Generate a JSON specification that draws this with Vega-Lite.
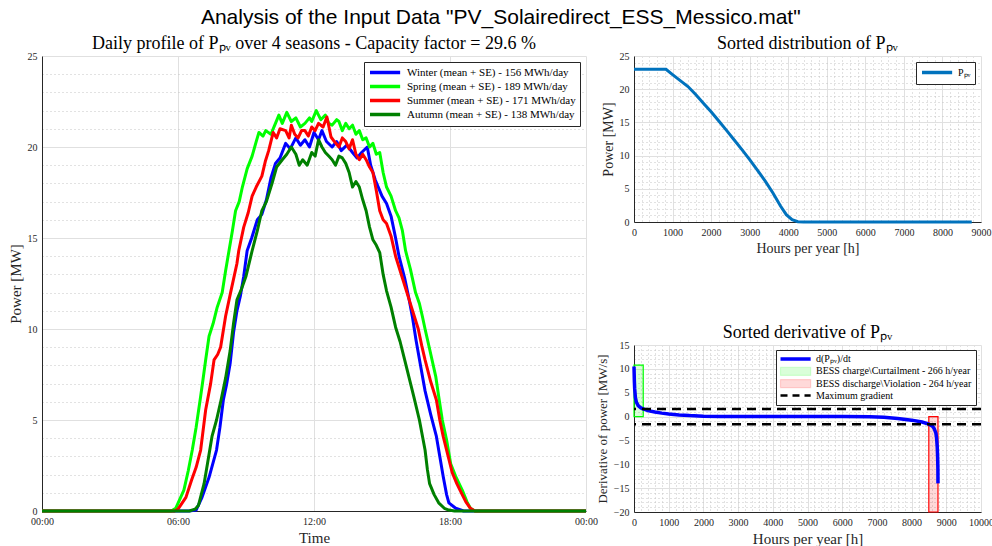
{
  "$schema": "https://vega.github.io/schema/vega-lite/v6.json",
  "background": "white",
  "padding": {"left": 8, "top": 7, "right": 0, "bottom": 0},
  "title": {"text": "Analysis of the Input Data \"PV_Solairedirect_ESS_Messico.mat\"", "font": "Liberation Sans", "fontSize": 21, "fontWeight": "normal", "anchor": "middle", "color": "#000000", "offset": 7},
  "spacing": -2,
  "resolve": {"scale": {"color": "independent", "stroke": "independent"}, "legend": {"color": "independent"}},
  "hconcat": [
    {
      "width": 544,
      "height": 455,
      "title": {"text": "Daily profile of Pₚᵥ over 4 seasons - Capacity factor = 29.6 %"},
      "data": {"values": [
        {"s":"Winter","h":0,"p":0},{"s":"Winter","h":6.5,"p":0},{"s":"Winter","h":6.8,"p":0.05},{"s":"Winter","h":7.06,"p":0.75},{"s":"Winter","h":7.37,"p":1.85},{"s":"Winter","h":7.7,"p":3.35},{"s":"Winter","h":7.85,"p":4.6},{"s":"Winter","h":8.0,"p":6.1},{"s":"Winter","h":8.15,"p":7.0},{"s":"Winter","h":8.3,"p":8.1},{"s":"Winter","h":8.45,"p":9.8},{"s":"Winter","h":8.6,"p":11.0},{"s":"Winter","h":8.75,"p":11.8},{"s":"Winter","h":8.9,"p":12.9},{"s":"Winter","h":9.05,"p":14.3},{"s":"Winter","h":9.25,"p":15.0},{"s":"Winter","h":9.5,"p":16.0},{"s":"Winter","h":9.7,"p":16.3},{"s":"Winter","h":9.9,"p":17.1},{"s":"Winter","h":10.1,"p":18.3},{"s":"Winter","h":10.3,"p":19.1},{"s":"Winter","h":10.5,"p":19.4},{"s":"Winter","h":10.75,"p":20.2},{"s":"Winter","h":10.95,"p":19.9},{"s":"Winter","h":11.2,"p":20.5},{"s":"Winter","h":11.4,"p":20.1},{"s":"Winter","h":11.6,"p":20.4},{"s":"Winter","h":11.8,"p":20.0},{"s":"Winter","h":12.0,"p":20.8},{"s":"Winter","h":12.2,"p":20.4},{"s":"Winter","h":12.35,"p":20.9},{"s":"Winter","h":12.55,"p":20.3},{"s":"Winter","h":12.8,"p":20.0},{"s":"Winter","h":13.0,"p":20.3},{"s":"Winter","h":13.2,"p":19.8},{"s":"Winter","h":13.45,"p":20.1},{"s":"Winter","h":13.7,"p":19.7},{"s":"Winter","h":13.9,"p":19.4},{"s":"Winter","h":14.1,"p":19.7},{"s":"Winter","h":14.35,"p":20.0},{"s":"Winter","h":14.5,"p":19.0},{"s":"Winter","h":14.7,"p":18.2},{"s":"Winter","h":15.0,"p":17.3},{"s":"Winter","h":15.2,"p":16.9},{"s":"Winter","h":15.4,"p":16.2},{"s":"Winter","h":15.6,"p":15.0},{"s":"Winter","h":15.75,"p":14.0},{"s":"Winter","h":16.0,"p":12.8},{"s":"Winter","h":16.2,"p":11.6},{"s":"Winter","h":16.35,"p":10.6},{"s":"Winter","h":16.5,"p":9.4},{"s":"Winter","h":16.7,"p":8.0},{"s":"Winter","h":16.9,"p":6.6},{"s":"Winter","h":17.15,"p":5.3},{"s":"Winter","h":17.4,"p":4.1},{"s":"Winter","h":17.55,"p":3.0},{"s":"Winter","h":17.7,"p":1.9},{"s":"Winter","h":17.85,"p":0.9},{"s":"Winter","h":17.95,"p":0.45},{"s":"Winter","h":18.25,"p":0.15},{"s":"Winter","h":18.6,"p":0},{"s":"Winter","h":24,"p":0},
        {"s":"Spring","h":0,"p":0},{"s":"Spring","h":5.7,"p":0},{"s":"Spring","h":5.9,"p":0.15},{"s":"Spring","h":6.26,"p":1.15},{"s":"Spring","h":6.45,"p":2.2},{"s":"Spring","h":6.63,"p":3.35},{"s":"Spring","h":6.8,"p":4.6},{"s":"Spring","h":7.0,"p":6.3},{"s":"Spring","h":7.1,"p":7.2},{"s":"Spring","h":7.22,"p":8.3},{"s":"Spring","h":7.37,"p":9.6},{"s":"Spring","h":7.55,"p":10.3},{"s":"Spring","h":7.73,"p":11.2},{"s":"Spring","h":7.95,"p":12.0},{"s":"Spring","h":8.1,"p":13.2},{"s":"Spring","h":8.25,"p":14.3},{"s":"Spring","h":8.4,"p":15.4},{"s":"Spring","h":8.54,"p":16.5},{"s":"Spring","h":8.7,"p":17.0},{"s":"Spring","h":8.84,"p":17.8},{"s":"Spring","h":9.05,"p":18.8},{"s":"Spring","h":9.27,"p":19.5},{"s":"Spring","h":9.45,"p":20.3},{"s":"Spring","h":9.57,"p":20.8},{"s":"Spring","h":9.75,"p":20.6},{"s":"Spring","h":9.87,"p":20.9},{"s":"Spring","h":10.1,"p":20.7},{"s":"Spring","h":10.3,"p":21.3},{"s":"Spring","h":10.45,"p":21.75},{"s":"Spring","h":10.6,"p":21.3},{"s":"Spring","h":10.8,"p":21.9},{"s":"Spring","h":11.0,"p":21.4},{"s":"Spring","h":11.2,"p":21.6},{"s":"Spring","h":11.4,"p":21.1},{"s":"Spring","h":11.6,"p":21.3},{"s":"Spring","h":11.8,"p":21.6},{"s":"Spring","h":11.9,"p":21.4},{"s":"Spring","h":12.1,"p":22.0},{"s":"Spring","h":12.3,"p":21.5},{"s":"Spring","h":12.5,"p":21.75},{"s":"Spring","h":12.65,"p":21.3},{"s":"Spring","h":12.8,"p":21.2},{"s":"Spring","h":13.0,"p":21.5},{"s":"Spring","h":13.1,"p":21.4},{"s":"Spring","h":13.25,"p":20.9},{"s":"Spring","h":13.4,"p":21.3},{"s":"Spring","h":13.55,"p":21.0},{"s":"Spring","h":13.7,"p":21.2},{"s":"Spring","h":13.85,"p":20.7},{"s":"Spring","h":14.0,"p":20.9},{"s":"Spring","h":14.15,"p":20.4},{"s":"Spring","h":14.3,"p":20.5},{"s":"Spring","h":14.45,"p":20.0},{"s":"Spring","h":14.6,"p":20.2},{"s":"Spring","h":14.75,"p":19.6},{"s":"Spring","h":14.9,"p":19.7},{"s":"Spring","h":15.05,"p":18.6},{"s":"Spring","h":15.2,"p":17.8},{"s":"Spring","h":15.4,"p":17.3},{"s":"Spring","h":15.6,"p":16.5},{"s":"Spring","h":15.75,"p":16.1},{"s":"Spring","h":15.9,"p":15.4},{"s":"Spring","h":16.04,"p":14.3},{"s":"Spring","h":16.25,"p":13.3},{"s":"Spring","h":16.48,"p":12.0},{"s":"Spring","h":16.65,"p":11.4},{"s":"Spring","h":16.78,"p":10.7},{"s":"Spring","h":16.9,"p":10.0},{"s":"Spring","h":17.1,"p":8.9},{"s":"Spring","h":17.37,"p":7.4},{"s":"Spring","h":17.5,"p":6.3},{"s":"Spring","h":17.66,"p":5.0},{"s":"Spring","h":17.85,"p":3.9},{"s":"Spring","h":18.03,"p":2.6},{"s":"Spring","h":18.25,"p":1.9},{"s":"Spring","h":18.54,"p":1.15},{"s":"Spring","h":18.75,"p":0.5},{"s":"Spring","h":18.9,"p":0.15},{"s":"Spring","h":19.1,"p":0},{"s":"Spring","h":24,"p":0},
        {"s":"Summer","h":0,"p":0},{"s":"Summer","h":5.85,"p":0},{"s":"Summer","h":6.0,"p":0.1},{"s":"Summer","h":6.35,"p":0.75},{"s":"Summer","h":6.6,"p":1.7},{"s":"Summer","h":6.8,"p":2.4},{"s":"Summer","h":7.0,"p":3.35},{"s":"Summer","h":7.22,"p":5.55},{"s":"Summer","h":7.44,"p":7.0},{"s":"Summer","h":7.59,"p":8.3},{"s":"Summer","h":7.75,"p":8.6},{"s":"Summer","h":7.88,"p":9.0},{"s":"Summer","h":8.1,"p":10.7},{"s":"Summer","h":8.32,"p":12.0},{"s":"Summer","h":8.6,"p":13.6},{"s":"Summer","h":8.68,"p":14.3},{"s":"Summer","h":8.9,"p":15.6},{"s":"Summer","h":9.1,"p":16.4},{"s":"Summer","h":9.27,"p":17.3},{"s":"Summer","h":9.45,"p":17.8},{"s":"Summer","h":9.7,"p":18.4},{"s":"Summer","h":9.85,"p":19.2},{"s":"Summer","h":10.0,"p":19.8},{"s":"Summer","h":10.2,"p":20.8},{"s":"Summer","h":10.35,"p":20.5},{"s":"Summer","h":10.5,"p":21.0},{"s":"Summer","h":10.75,"p":20.9},{"s":"Summer","h":10.9,"p":20.5},{"s":"Summer","h":11.0,"p":21.2},{"s":"Summer","h":11.15,"p":20.7},{"s":"Summer","h":11.3,"p":20.5},{"s":"Summer","h":11.45,"p":20.9},{"s":"Summer","h":11.6,"p":20.9},{"s":"Summer","h":11.75,"p":20.6},{"s":"Summer","h":11.9,"p":21.1},{"s":"Summer","h":12.05,"p":20.9},{"s":"Summer","h":12.2,"p":21.3},{"s":"Summer","h":12.4,"p":21.1},{"s":"Summer","h":12.57,"p":21.65},{"s":"Summer","h":12.75,"p":20.55},{"s":"Summer","h":12.9,"p":20.3},{"s":"Summer","h":13.1,"p":20.0},{"s":"Summer","h":13.25,"p":20.5},{"s":"Summer","h":13.4,"p":20.3},{"s":"Summer","h":13.55,"p":19.9},{"s":"Summer","h":13.7,"p":20.4},{"s":"Summer","h":13.85,"p":19.6},{"s":"Summer","h":14.0,"p":19.3},{"s":"Summer","h":14.15,"p":19.6},{"s":"Summer","h":14.3,"p":19.3},{"s":"Summer","h":14.45,"p":18.9},{"s":"Summer","h":14.6,"p":18.6},{"s":"Summer","h":14.75,"p":17.6},{"s":"Summer","h":14.9,"p":16.5},{"s":"Summer","h":15.05,"p":16.0},{"s":"Summer","h":15.2,"p":15.8},{"s":"Summer","h":15.4,"p":15.1},{"s":"Summer","h":15.6,"p":14.0},{"s":"Summer","h":15.9,"p":12.8},{"s":"Summer","h":16.2,"p":11.6},{"s":"Summer","h":16.4,"p":10.8},{"s":"Summer","h":16.6,"p":10.0},{"s":"Summer","h":16.75,"p":9.1},{"s":"Summer","h":16.9,"p":8.3},{"s":"Summer","h":17.15,"p":7.1},{"s":"Summer","h":17.4,"p":6.1},{"s":"Summer","h":17.55,"p":5.0},{"s":"Summer","h":17.7,"p":4.1},{"s":"Summer","h":17.9,"p":3.1},{"s":"Summer","h":18.1,"p":2.1},{"s":"Summer","h":18.3,"p":1.5},{"s":"Summer","h":18.5,"p":1.0},{"s":"Summer","h":18.7,"p":0.5},{"s":"Summer","h":18.9,"p":0.15},{"s":"Summer","h":19.1,"p":0},{"s":"Summer","h":24,"p":0},
        {"s":"Autumn","h":0,"p":0},{"s":"Autumn","h":6.5,"p":0},{"s":"Autumn","h":6.75,"p":0.1},{"s":"Autumn","h":6.9,"p":0.3},{"s":"Autumn","h":7.15,"p":1.5},{"s":"Autumn","h":7.3,"p":2.6},{"s":"Autumn","h":7.5,"p":4.1},{"s":"Autumn","h":7.7,"p":5.0},{"s":"Autumn","h":7.9,"p":6.1},{"s":"Autumn","h":8.1,"p":7.3},{"s":"Autumn","h":8.3,"p":8.8},{"s":"Autumn","h":8.45,"p":10.3},{"s":"Autumn","h":8.6,"p":11.6},{"s":"Autumn","h":8.8,"p":12.2},{"s":"Autumn","h":9.0,"p":12.9},{"s":"Autumn","h":9.27,"p":14.3},{"s":"Autumn","h":9.5,"p":15.4},{"s":"Autumn","h":9.7,"p":16.5},{"s":"Autumn","h":9.9,"p":17.0},{"s":"Autumn","h":10.15,"p":18.0},{"s":"Autumn","h":10.35,"p":18.9},{"s":"Autumn","h":10.6,"p":19.3},{"s":"Autumn","h":10.8,"p":19.6},{"s":"Autumn","h":11.0,"p":20.0},{"s":"Autumn","h":11.2,"p":19.6},{"s":"Autumn","h":11.35,"p":19.0},{"s":"Autumn","h":11.5,"p":19.3},{"s":"Autumn","h":11.7,"p":19.0},{"s":"Autumn","h":11.9,"p":19.7},{"s":"Autumn","h":12.05,"p":19.5},{"s":"Autumn","h":12.2,"p":20.4},{"s":"Autumn","h":12.35,"p":20.0},{"s":"Autumn","h":12.5,"p":19.7},{"s":"Autumn","h":12.65,"p":19.5},{"s":"Autumn","h":12.8,"p":19.3},{"s":"Autumn","h":12.95,"p":19.0},{"s":"Autumn","h":13.1,"p":19.5},{"s":"Autumn","h":13.25,"p":19.4},{"s":"Autumn","h":13.4,"p":19.1},{"s":"Autumn","h":13.55,"p":18.6},{"s":"Autumn","h":13.7,"p":17.8},{"s":"Autumn","h":13.85,"p":18.1},{"s":"Autumn","h":14.0,"p":17.8},{"s":"Autumn","h":14.15,"p":17.1},{"s":"Autumn","h":14.3,"p":16.5},{"s":"Autumn","h":14.45,"p":15.6},{"s":"Autumn","h":14.6,"p":14.9},{"s":"Autumn","h":14.75,"p":14.6},{"s":"Autumn","h":14.9,"p":14.2},{"s":"Autumn","h":15.05,"p":13.0},{"s":"Autumn","h":15.2,"p":12.1},{"s":"Autumn","h":15.4,"p":11.2},{"s":"Autumn","h":15.6,"p":10.1},{"s":"Autumn","h":15.8,"p":9.3},{"s":"Autumn","h":16.0,"p":8.3},{"s":"Autumn","h":16.2,"p":7.3},{"s":"Autumn","h":16.4,"p":6.3},{"s":"Autumn","h":16.65,"p":5.0},{"s":"Autumn","h":16.9,"p":3.35},{"s":"Autumn","h":17.0,"p":2.3},{"s":"Autumn","h":17.1,"p":1.5},{"s":"Autumn","h":17.3,"p":0.9},{"s":"Autumn","h":17.5,"p":0.45},{"s":"Autumn","h":17.75,"p":0.15},{"s":"Autumn","h":17.95,"p":0.05},{"s":"Autumn","h":18.2,"p":0},{"s":"Autumn","h":24,"p":0}
      ]},
      "mark": {"type": "line", "strokeWidth": 3, "strokeJoin": "round"},
      "encoding": {
        "x": {"field": "h", "type": "quantitative", "scale": {"domain": [0, 24], "nice": false},
          "axis": {"values": [0, 6, 12, 18, 24], "title": "Time", "labelFlush": false, "labelExpr": "(datum.value % 24 < 10 ? '0' : '') + (datum.value % 24) + ':00'"}},
        "y": {"field": "p", "type": "quantitative", "scale": {"domain": [0, 25], "nice": false},
          "axis": {"values": [0,1,2,3,4,5,6,7,8,9,10,11,12,13,14,15,16,17,18,19,20,21,22,23,24,25], "title": "Power [MW]",
            "labelExpr": "datum.value % 5 === 0 ? datum.label : ''",
            "gridDash": {"condition": {"test": "datum.value % 5 !== 0", "value": [1, 3]}, "value": []},
            "gridColor": {"condition": {"test": "datum.value % 5 !== 0", "value": "#c4c4c4"}, "value": "#e0e0e0"}}},
        "color": {"field": "s", "type": "nominal",
          "scale": {"domain": ["Winter", "Spring", "Summer", "Autumn"], "range": ["#0000ff", "#00ff00", "#ff0000", "#008000"]},
          "legend": {"title": null, "orient": "top-right", "offset": 6, "symbolType": "M-1,0H5.7", "symbolSize": 81, "symbolStrokeWidth": 3.5,
            "labelOffset": 26, "labelFontSize": 11, "rowPadding": -5.5, "padding": 4,
            "labelExpr": "datum.label + ' (mean + SE) - ' + (datum.label === 'Winter' ? '156' : datum.label === 'Spring' ? '189' : datum.label === 'Summer' ? '171' : '138') + ' MWh/day'"}}
      }
    },
    {
      "spacing": 69,
      "resolve": {"scale": {"color": "independent", "stroke": "independent"}, "legend": {"color": "independent"}},
      "vconcat": [
        {
          "width": 347,
          "height": 166,
          "title": {"text": "Sorted distribution of Pₚᵥ"},
          "data": {"values": [
            {"h":0,"p":23.0},{"h":830,"p":23.0},{"h":1000,"p":22.2},{"h":1200,"p":21.3},{"h":1400,"p":20.4},{"h":1600,"p":19.2},{"h":1800,"p":17.9},{"h":2000,"p":16.6},{"h":2200,"p":15.2},{"h":2400,"p":13.8},{"h":2600,"p":12.35},{"h":2800,"p":10.9},{"h":3000,"p":9.4},{"h":3200,"p":7.8},{"h":3400,"p":6.2},{"h":3600,"p":4.4},{"h":3800,"p":2.4},{"h":3950,"p":1.1},{"h":4100,"p":0.35},{"h":4250,"p":0.05},{"h":4400,"p":0},{"h":8760,"p":0}
          ]},
          "mark": {"type": "line", "strokeWidth": 3},
          "encoding": {
            "x": {"field": "h", "type": "quantitative", "scale": {"domain": [0, 9000], "nice": false},
              "axis": {"values": [0,200,400,600,800,1000,1200,1400,1600,1800,2000,2200,2400,2600,2800,3000,3200,3400,3600,3800,4000,4200,4400,4600,4800,5000,5200,5400,5600,5800,6000,6200,6400,6600,6800,7000,7200,7400,7600,7800,8000,8200,8400,8600,8800,9000],
                "title": "Hours per year [h]", "titleFontSize": 14, "labelFlush": false,
                "labelExpr": "datum.value % 1000 === 0 ? datum.value : ''",
                "gridDash": {"condition": {"test": "datum.value % 1000 !== 0", "value": [1, 3]}, "value": []},
                "gridColor": {"condition": {"test": "datum.value % 1000 !== 0", "value": "#c4c4c4"}, "value": "#e0e0e0"}}},
            "y": {"field": "p", "type": "quantitative", "scale": {"domain": [0, 25], "nice": false},
              "axis": {"values": [0,1,2,3,4,5,6,7,8,9,10,11,12,13,14,15,16,17,18,19,20,21,22,23,24,25], "title": "Power [MW]", "titleFontSize": 14,
                "labelExpr": "datum.value % 5 === 0 ? datum.label : ''",
                "gridDash": {"condition": {"test": "datum.value % 5 !== 0", "value": [1, 3]}, "value": []},
                "gridColor": {"condition": {"test": "datum.value % 5 !== 0", "value": "#c4c4c4"}, "value": "#e0e0e0"}}},
            "color": {"datum": "Pₚᵥ", "type": "nominal", "scale": {"domain": ["Pₚᵥ"], "range": ["#0072bd"]},
              "legend": {"title": null, "orient": "top-right", "offset": 6, "symbolType": "M-1,0H5.7", "symbolSize": 81, "symbolStrokeWidth": 3.5, "labelOffset": 25, "labelFontSize": 10, "padding": 4}}
          }
        },
        {
          "width": 347,
          "height": 167,
          "title": {"text": "Sorted derivative of Pₚᵥ"},
          "layer": [
            {
              "data": {"values": [
                {"x": 0, "x2": 266, "y": 0, "y2": 10.8, "item": "BESS charge\\Curtailment - 266 h/year"},
                {"x": 8496, "x2": 8760, "y": -20, "y2": 0, "item": "BESS discharge\\Violation - 264 h/year"}
              ]},
              "mark": {"type": "rect", "strokeWidth": 1.2},
              "encoding": {
                "x": {"field": "x", "type": "quantitative"},
                "x2": {"field": "x2"},
                "y": {"field": "y", "type": "quantitative"},
                "y2": {"field": "y2"},
                "color": {"field": "item", "type": "nominal"},
                "stroke": {"field": "item", "type": "nominal",
                  "scale": {"domain": ["BESS charge\\Curtailment - 266 h/year", "BESS discharge\\Violation - 264 h/year"], "range": ["#00ff00", "#ff0000"]},
                  "legend": null}
              }
            },
            {
              "data": {"values": [
                {"h":0,"d":10.5,"item":"d(Pₚᵥ)/dt"},{"h":5,"d":9.0,"item":"d(Pₚᵥ)/dt"},{"h":10,"d":7.5,"item":"d(Pₚᵥ)/dt"},{"h":20,"d":5.8,"item":"d(Pₚᵥ)/dt"},{"h":40,"d":4.0,"item":"d(Pₚᵥ)/dt"},{"h":70,"d":3.0,"item":"d(Pₚᵥ)/dt"},{"h":120,"d":2.3,"item":"d(Pₚᵥ)/dt"},{"h":200,"d":1.8,"item":"d(Pₚᵥ)/dt"},{"h":266,"d":1.6,"item":"d(Pₚᵥ)/dt"},{"h":400,"d":1.25,"item":"d(Pₚᵥ)/dt"},{"h":600,"d":0.95,"item":"d(Pₚᵥ)/dt"},{"h":800,"d":0.72,"item":"d(Pₚᵥ)/dt"},{"h":1000,"d":0.55,"item":"d(Pₚᵥ)/dt"},{"h":1300,"d":0.35,"item":"d(Pₚᵥ)/dt"},{"h":1600,"d":0.2,"item":"d(Pₚᵥ)/dt"},{"h":2000,"d":0.08,"item":"d(Pₚᵥ)/dt"},{"h":2500,"d":0.02,"item":"d(Pₚᵥ)/dt"},{"h":3000,"d":0,"item":"d(Pₚᵥ)/dt"},{"h":6000,"d":0,"item":"d(Pₚᵥ)/dt"},{"h":6800,"d":-0.05,"item":"d(Pₚᵥ)/dt"},{"h":7200,"d":-0.15,"item":"d(Pₚᵥ)/dt"},{"h":7600,"d":-0.4,"item":"d(Pₚᵥ)/dt"},{"h":8000,"d":-0.75,"item":"d(Pₚᵥ)/dt"},{"h":8300,"d":-1.15,"item":"d(Pₚᵥ)/dt"},{"h":8496,"d":-1.6,"item":"d(Pₚᵥ)/dt"},{"h":8600,"d":-2.0,"item":"d(Pₚᵥ)/dt"},{"h":8650,"d":-2.5,"item":"d(Pₚᵥ)/dt"},{"h":8700,"d":-3.5,"item":"d(Pₚᵥ)/dt"},{"h":8720,"d":-4.5,"item":"d(Pₚᵥ)/dt"},{"h":8740,"d":-6.5,"item":"d(Pₚᵥ)/dt"},{"h":8750,"d":-8.5,"item":"d(Pₚᵥ)/dt"},{"h":8758,"d":-11,"item":"d(Pₚᵥ)/dt"},{"h":8760,"d":-14,"item":"d(Pₚᵥ)/dt"}
              ]},
              "mark": {"type": "line", "strokeWidth": 3.5},
              "encoding": {
                "x": {"field": "h", "type": "quantitative"},
                "y": {"field": "d", "type": "quantitative"},
                "color": {"field": "item", "type": "nominal"}
              }
            },
            {
              "data": {"values": [
                {"g": 1.6, "item": "Maximum gradient"},
                {"g": -1.6, "item": "Maximum gradient"}
              ]},
              "mark": {"type": "rule", "strokeWidth": 2.5, "strokeDash": [9, 6]},
              "encoding": {
                "y": {"field": "g", "type": "quantitative"},
                "color": {"field": "item", "type": "nominal"}
              }
            }
          ],
          "encoding": {
            "x": {"type": "quantitative", "scale": {"domain": [0, 10000], "nice": false},
              "axis": {"values": [0,200,400,600,800,1000,1200,1400,1600,1800,2000,2200,2400,2600,2800,3000,3200,3400,3600,3800,4000,4200,4400,4600,4800,5000,5200,5400,5600,5800,6000,6200,6400,6600,6800,7000,7200,7400,7600,7800,8000,8200,8400,8600,8800,9000,9200,9400,9600,9800,10000],
                "title": "Hours per year [h]", "labelFlush": false,
                "labelExpr": "datum.value % 1000 === 0 ? datum.value : ''",
                "gridDash": {"condition": {"test": "datum.value % 1000 !== 0", "value": [1, 3]}, "value": []},
                "gridColor": {"condition": {"test": "datum.value % 1000 !== 0", "value": "#c4c4c4"}, "value": "#e0e0e0"}}},
            "y": {"type": "quantitative", "scale": {"domain": [-20, 15], "nice": false},
              "axis": {"values": [-20,-19,-18,-17,-16,-15,-14,-13,-12,-11,-10,-9,-8,-7,-6,-5,-4,-3,-2,-1,0,1,2,3,4,5,6,7,8,9,10,11,12,13,14,15], "title": "Derivative of power [MW/s]", "titleFontSize": 13,
                "labelExpr": "datum.value % 5 === 0 ? datum.label : ''",
                "gridDash": {"condition": {"test": "datum.value % 5 !== 0", "value": [1, 3]}, "value": []},
                "gridColor": {"condition": {"test": "datum.value % 5 !== 0", "value": "#c4c4c4"}, "value": "#e0e0e0"}}},
            "color": {"type": "nominal",
              "scale": {"domain": ["d(Pₚᵥ)/dt", "BESS charge\\Curtailment - 266 h/year", "BESS discharge\\Violation - 264 h/year", "Maximum gradient"],
                "range": ["#0000ff", "rgba(0,255,0,0.15)", "rgba(255,0,0,0.15)", "#000000"]},
              "legend": {"title": null, "orient": "top-right", "offset": 5, "labelFontSize": 10, "rowPadding": -1.7, "symbolSize": 81, "labelOffset": 26, "padding": 4,
                "encode": {"symbols": {"update": {
                  "shape": {"signal": "datum.index === 1 || datum.index === 2 ? 'M-1,-0.9H5.7V0.9H-1Z' : 'M-1,0H5.7'"},
                  "fill": {"signal": "datum.index === 1 ? 'rgba(0,255,0,0.15)' : datum.index === 2 ? 'rgba(255,0,0,0.15)' : 'transparent'"},
                  "stroke": {"signal": "datum.index === 0 ? '#0000ff' : datum.index === 1 ? '#00ff00' : datum.index === 2 ? '#ff0000' : '#000000'"},
                  "strokeWidth": {"signal": "datum.index === 0 ? 3.5 : datum.index === 3 ? 2.5 : 1.2"},
                  "strokeDash": {"signal": "datum.index === 3 ? [7, 5] : [1, 0]"},
                  "opacity": {"value": 1}
                }}}}}
          }
        }
      ]
    }
  ],
  "config": {
    "font": "Liberation Serif",
    "view": {"stroke": null},
    "title": {"font": "Liberation Serif", "fontSize": 18, "fontWeight": "normal", "color": "#000000", "offset": -2},
    "axis": {
      "labelFont": "Liberation Serif", "labelFontSize": 10, "labelColor": "#262626",
      "titleFont": "Liberation Serif", "titleFontSize": 15, "titleFontWeight": "normal", "titleColor": "#262626",
      "domainColor": "#262626", "domainWidth": 1, "ticks": false, "labelPadding": 5,
      "grid": true, "gridColor": "#e0e0e0", "gridWidth": 1, "titlePadding": 4
    },
    "legend": {
      "labelFont": "Liberation Serif", "labelColor": "#000000", "fillColor": "white", "strokeColor": "#262626",
      "padding": 5, "cornerRadius": 0, "labelLimit": 400
    }
  }
}
